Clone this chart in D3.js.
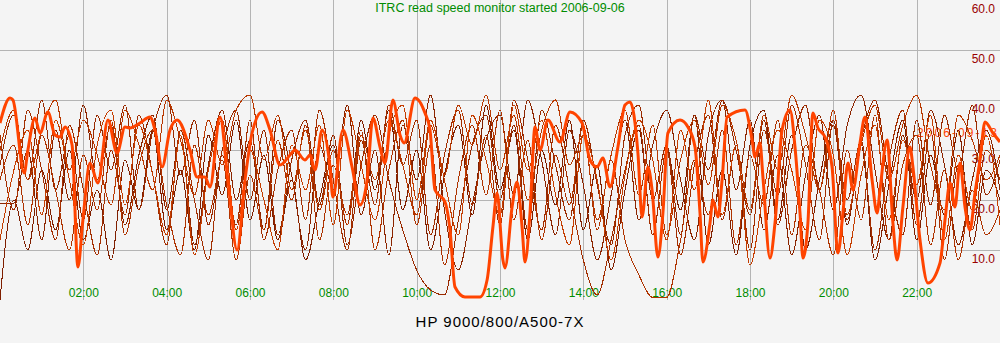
<!DOCTYPE html>
<html>
<head>
<meta charset="utf-8">
<script src="https://cdn.jsdelivr.net/npm/d3@7"></script>
<style>
  body { margin: 0; background: #f4f4f4; }
  svg { display: block; }
  text { font-family: "Liberation Sans", Arial, sans-serif; }
</style>
</head>
<body>
<div id="chart"></div>
<script>
// tick labels
const xTickHours = [2, 4, 6, 8, 10, 12, 14, 16, 18, 20, 22];
const xTickLabels = ["02:00", "04:00", "06:00", "08:00", "10:00", "12:00", "14:00", "16:00", "18:00", "20:00", "22:00"];
const yTickValues = [10, 20, 30, 40, 50, 60];
const yTickLabels = ["10.0", "20.0", "30.0", "40.0", "50.0", "60.0"];

// one sample every 20 minutes, 00:00 .. 24:00 (MB/s)
const day0906 = [0, 20, 10, 26, 14, 30, 12, 22, 8, 28, 18, 34, 14, 26, 10, 33, 21, 36, 16, 29, 12, 24, 8, 20, 31, 15, 36, 22, 38, 18, 30, 10, 25, 35, 17, 39, 22, 34, 12, 30, 19, 36, 14, 27, 6, 22, 34, 13, 30, 18, 37, 11, 26, 9, 31, 38, 16, 33, 10, 24, 36, 15, 31, 8, 23, 36, 12, 29, 17, 34, 11, 26, 20];
const day0907 = [19.4, 19.4, 30, 12, 34, 20, 39, 24, 35, 15, 29, 37, 18, 33, 11, 27, 38, 20, 32, 14, 36, 25, 10, 31, 22, 39, 17, 30, 9, 35, 24, 41, 18, 6, 19, 32, 37, 21, 40, 28, 13, 34, 23, 8, 21, 36, 16, 31, 38, 24, 12, 33, 40, 22, 36, 14, 29, 9, 25, 37, 18, 35, 41, 26, 12, 33, 20, 38, 27, 11, 24, 34, 22];
const day0908 = [27, 37, 24, 40, 22, 33, 16, 37, 26, 39, 18, 34, 41, 25, 36, 15, 30, 38, 20, 34, 13, 28, 36, 19, 33, 11, 27, 37, 24, 14, 6, 2, 1, 16, 31, 37, 20, 35, 14, 38, 27, 16, 36, 23, 11, 33, 39, 20, 31, 13, 37, 26, 40, 30, 17, 36, 15, 30, 39, 22, 35, 16, 32, 40, 24, 13, 36, 19, 37, 26, 39, 21, 28];
const day0909 = [33, 18, 38, 26, 12, 35, 22, 9, 30, 17, 37, 25, 11, 34, 20, 8, 29, 15, 36, 12, 26, 34, 16, 38, 24, 10, 32, 19, 39, 27, 36, 13, 29, 38, 19, 33, 15, 40, 28, 14, 35, 22, 8, 1, 12, 26, 35, 13, 30, 9, 27, 37, 16, 31, 10, 34, 21, 39, 27, 12, 36, 20, 32, 10, 28, 38, 15, 34, 8, 27, 14, 30, 24];
const day0910 = [24, 31, 15, 33, 22, 10, 29, 18, 36, 13, 27, 34, 19, 9, 31, 17, 28, 8, 25, 14, 32, 20, 35, 12, 27, 17, 34, 10, 26, 36, 15, 31, 7, 24, 35, 21, 38, 16, 32, 12, 29, 19, 35, 14, 28, 12, 5, 0.5, 0.5, 12, 28, 17, 34, 11, 29, 19, 36, 13, 31, 22, 9, 30, 16, 37, 12, 27, 33, 11, 26, 8, 22, 13, 18];
const day0911 = [30, 38, 24, 34, 40, 26, 36, 29, 19, 38, 31, 22, 40, 32, 21, 36, 27, 38, 41, 28, 37, 22, 34, 18, 30, 15, 33, 24, 36, 27, 17, 35, 25, 39, 31, 41, 26, 37, 20, 34, 40, 27, 33, 16, 29, 38, 21, 35, 13, 28, 36, 23, 39, 32, 18, 37, 26, 41, 33, 22, 38, 17, 31, 39, 24, 35, 41, 27, 18, 37, 32, 24, 29];
const day0912 = [12, 26, 34, 17, 36, 24, 11, 31, 38, 19, 35, 25, 13, 33, 9, 26, 36, 14, 30, 20, 10, 31, 22, 35, 15, 38, 27, 16, 33, 39, 20, 36, 24, 13, 37, 28, 17, 39, 26, 36, 21, 11, 33, 24, 8, 25, 36, 28, 12, 34, 22, 40, 17, 31, 7, 22, 34, 26, 14, 36, 29, 9, 25, 35, 16, 32, 23, 37, 12, 29, 18, 33, 15];

// current day: [hour, MB/s]
const day0913 = [
  [0.00, 35.4], [0.24, 40.4], [0.31, 40.0], [0.58, 25.4], [0.67, 30.0], [0.84, 36.4], [0.96, 33.4], [1.15, 37.6],
  [1.32, 33.0], [1.44, 32.6], [1.56, 34.6], [1.73, 31.0], [1.87, 6.6], [1.99, 16.0], [2.16, 27.4], [2.35, 23.4],
  [2.59, 36.0], [2.81, 29.4], [3.00, 34.6], [3.12, 34.4], [3.36, 35.4], [3.60, 36.6], [3.72, 34.0], [3.89, 26.6],
  [4.08, 34.0], [4.25, 36.0], [4.56, 30.0], [4.73, 24.6], [4.92, 24.6], [5.04, 22.6], [5.28, 36.6], [5.47, 24.0],
  [5.69, 10.0], [5.88, 24.0], [6.05, 33.4], [6.29, 37.6], [6.48, 34.0], [6.72, 27.0], [6.96, 29.0], [7.08, 30.0],
  [7.32, 28.0], [7.44, 29.0], [7.56, 26.0], [7.73, 34.0], [7.92, 26.6], [7.99, 20.6], [8.23, 34.0], [8.45, 26.6],
  [8.64, 19.0], [8.81, 24.0], [8.95, 36.4], [9.12, 30.6], [9.24, 27.4], [9.43, 40.0], [9.60, 33.0], [9.70, 31.4],
  [9.96, 40.4], [10.20, 37.4], [10.32, 34.0], [10.44, 22.0], [10.68, 19.6], [10.80, 14.0], [10.92, 2.6], [11.16, 0.6],
  [11.52, 0.6], [11.69, 4.0], [11.83, 14.6], [11.93, 21.4], [12.07, 8.0], [12.12, 6.4], [12.29, 18.6], [12.41, 23.6],
  [12.53, 14.6], [12.60, 7.6], [12.72, 17.4], [12.84, 34.6], [12.96, 30.0], [13.15, 36.0], [13.44, 31.6], [13.68, 37.6],
  [13.97, 35.4], [14.16, 28.0], [14.33, 26.6], [14.47, 28.4], [14.64, 22.6], [14.83, 30.6], [15.00, 39.0], [15.12, 39.6],
  [15.31, 29.4], [15.41, 16.6], [15.55, 26.6], [15.65, 22.0], [15.79, 8.6], [15.91, 17.4], [16.03, 33.4], [16.32, 36.0],
  [16.51, 34.6], [16.68, 30.6], [16.80, 17.4], [16.87, 7.6], [17.04, 15.4], [17.11, 20.0], [17.23, 16.6], [17.33, 24.0],
  [17.45, 36.6], [17.88, 38.0], [18.05, 32.0], [18.12, 28.6], [18.24, 31.4], [18.31, 24.6], [18.48, 8.4], [18.60, 15.4],
  [18.77, 34.0], [18.96, 38.0], [19.08, 30.6], [19.20, 17.4], [19.27, 8.4], [19.39, 15.4], [19.51, 37.4], [19.63, 34.4],
  [19.80, 32.6], [19.97, 26.6], [20.11, 9.4], [20.23, 17.4], [20.35, 27.4], [20.47, 22.0], [20.64, 31.4], [20.76, 36.6],
  [20.93, 24.0], [21.05, 17.4], [21.12, 22.0], [21.29, 32.0], [21.43, 15.4], [21.53, 8.0], [21.67, 18.6], [21.84, 30.6],
  [21.91, 26.6], [22.08, 12.0], [22.27, 3.4], [22.56, 7.4], [22.68, 16.0], [22.80, 23.4], [22.92, 18.6], [23.04, 27.4],
  [23.16, 18.6], [23.28, 14.0], [23.40, 21.4], [23.52, 28.0], [23.64, 35.6], [23.83, 33.4], [24.00, 31.6]
];

const pastDays = [day0906, day0907, day0908, day0909, day0910, day0911, day0912];
const pastColors = ["#7f1f00", "#8c2500", "#992a00", "#a32e00", "#ae3300", "#b83800", "#c43d00"];

const width = 1000, height = 343, plotH = 300;

const x = d3.scaleLinear().domain([0, 24]).range([0, width]);
const y = d3.scaleLinear().domain([0, 60]).range([plotH, 0]);

const svg = d3.select("#chart")
  .append("svg")
    .attr("width", width)
    .attr("height", height);

svg.append("rect")
  .attr("width", width)
  .attr("height", height)
  .attr("fill", "#f4f4f4");

//vertical grid + hour labels
const xAxis = svg.append("g")
  .attr("transform", `translate(0, ${plotH})`)
  .call(d3.axisBottom(x)
    .tickValues(xTickHours)
    .tickSize(-plotH)
    .tickFormat((d, i) => xTickLabels[i]));
xAxis.select(".domain").remove();
xAxis.selectAll("line")
  .attr("stroke", "#b4b4b4")
  .attr("shape-rendering", "crispEdges");
xAxis.selectAll("text")
  .attr("y", -3)
  .attr("dy", 0)
  .attr("fill", "#008c00")
  .style("font-size", "12px");

//horizontal grid + value labels on the right
const yAxis = svg.append("g")
  .attr("transform", `translate(${width}, 0)`)
  .call(d3.axisLeft(y)
    .tickValues(yTickValues)
    .tickSize(width)
    .tickFormat((d, i) => yTickLabels[i]));
yAxis.select(".domain").remove();
yAxis.selectAll("line")
  .attr("stroke", d => d >= 60 ? "none" : "#b4b4b4")
  .attr("shape-rendering", "crispEdges");
yAxis.selectAll("text")
  .attr("x", -5)
  .attr("dy", "1em")
  .attr("text-anchor", "end")
  .attr("fill", "#990000")
  .style("font-size", "12px");

//title + host
svg.append("text")
  .attr("x", width / 2)
  .attr("y", 12)
  .attr("text-anchor", "middle")
  .attr("fill", "#008c00")
  .style("font-size", "12.5px")
  .text("ITRC read speed monitor started 2006-09-06");

svg.append("text")
  .attr("x", width / 2)
  .attr("y", 327)
  .attr("text-anchor", "middle")
  .attr("fill", "#000")
  .style("font-size", "15px")
  .style("letter-spacing", "1px")
  .text("HP 9000/800/A500-7X");

svg.append("text")
  .attr("x", 917)
  .attr("y", 137)
  .attr("fill", "#ff4400")
  .style("font-size", "12px")
  .attr("textLength", 80)
  .text("2006-09-13");

//day traces
const line = d3.line()
  .x(d => x(d[0]))
  .y(d => y(d[1]))
  .curve(d3.curveMonotoneX);

pastDays.forEach((vals, k) => {
  const step = 24 / (vals.length - 1);
  svg.append("path")
    .datum(vals.map((v, i) => [i * step, v]))
    .attr("fill", "none")
    .attr("stroke", pastColors[k])
    .attr("stroke-width", 1)
    .attr("shape-rendering", "crispEdges")
    .attr("d", line);
});

svg.append("path")
  .datum(day0913)
  .attr("fill", "none")
  .attr("stroke", "#ff4400")
  .attr("stroke-width", 3)
  .attr("stroke-linejoin", "round")
  .attr("d", line);
</script>
</body>
</html>
